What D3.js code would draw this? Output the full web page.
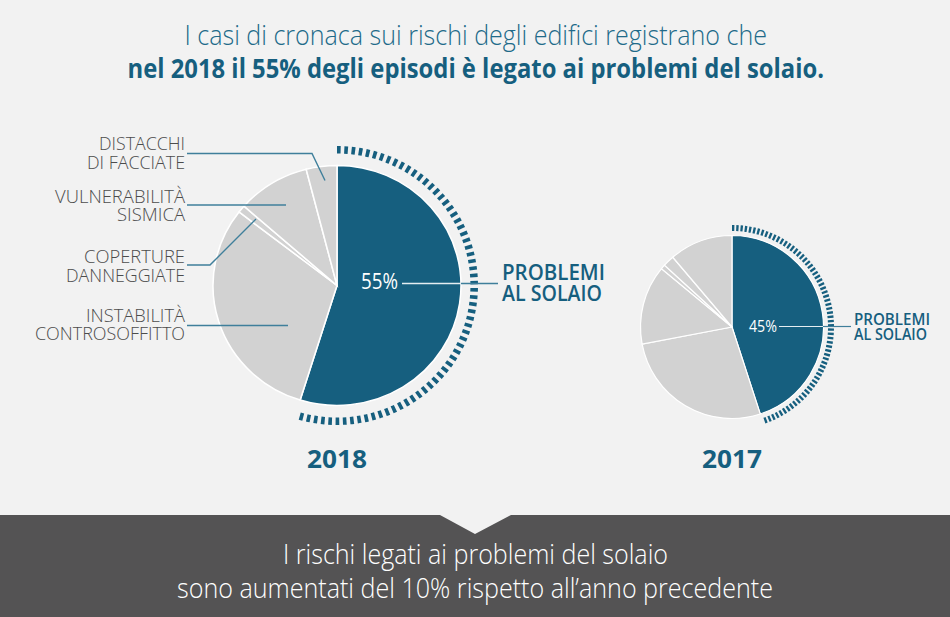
<!DOCTYPE html>
<html>
<head>
<meta charset="utf-8">
<title>Rischi degli edifici</title>
<script src="https://d3js.org/d3.v7.min.js"></script>
<style>
  html, body { margin: 0; padding: 0; background: #f2f2f2; }
  svg { display: block; }
  text { font-family: "Open Sans", sans-serif; }
</style>
</head>
<body>
<div id="chart"></div>
<script>
// slices clockwise from 12 o'clock, percent
var categories = ["Problemi al solaio", "Instabilità controsoffitto", "Coperture danneggiate", "Vulnerabilità sismica", "Distacchi di facciate"];
var values2018 = [54.8, 30.7, 1, 9.5, 4];
var values2017 = [45, 27, 14, 0.8, 2, 11.2];
var blue = "#165f7f", grey = "#d2d2d2", line = "#3f7f9b", dark = "#545354", labelGrey = "#4c4c4c";

var svg = d3.select("#chart").append("svg").attr("width", 950).attr("height", 617);

svg.append("rect").attr("width", 950).attr("height", 617).attr("fill", "#f2f2f2");

/* text squeezed to the width it has in the original */
function label(x0, x1, y, str, size, weight, color) {
  svg.append("text")
    .attr("x", x0).attr("y", y)
    .attr("textLength", x1 - x0).attr("lengthAdjust", "spacingAndGlyphs")
    .attr("font-size", size).attr("font-weight", weight).attr("fill", color)
    .text(str);
}

function leader(pts, color, w) {
  svg.append("path")
    .attr("d", d3.line()(pts))
    .attr("fill", "none").attr("stroke", color).attr("stroke-width", w);
}

function drawPie(values, cx, cy, rx, ry, ring) {
  var g = svg.append("g").attr("transform", "translate(" + cx + "," + cy + ") scale(" + (rx / ry) + ",1)");
  var pie = d3.pie().sort(null).value(function(d) { return d; });
  var arcs = pie(values);
  var arc = d3.arc().innerRadius(0).outerRadius(ry);

  g.selectAll("path.slice").data(arcs).enter().append("path")
    .attr("class", "slice")
    .attr("d", arc)
    .attr("fill", function(d, i) { return i == 0 ? blue : grey; })
    .attr("stroke", "#fff").attr("stroke-width", ring.sw);

  // dashed ring following the blue slice
  var end = arcs[0].endAngle;
  var step = end / ring.count;
  var tick = d3.arc().innerRadius(ring.inner).outerRadius(ring.outer);
  svg.append("g")
    .attr("transform", "translate(" + cx + "," + cy + ") scale(" + (ring.outerX / ring.outer) + ",1)")
    .selectAll("path").data(d3.range(ring.count)).enter().append("path")
    .attr("d", function(i) {
      return tick({ startAngle: i * step, endAngle: i * step + step * ring.fill });
    })
    .attr("fill", blue);
}

// titolo
label(184.5, 767, 45, "I casi di cronaca sui rischi degli edifici registrano che", 27, 300, "#216a89");
label(127.5, 824, 78, "nel 2018 il 55% degli episodi è legato ai problemi del solaio.", 26, 700, blue);

drawPie(values2018, 337, 285.5, 124, 120, { inner: 132, outer: 139.5, outerX: 141, count: 65, fill: 0.5, sw: 1.5 });
drawPie(values2017, 732, 327, 91.5, 91.5, { inner: 96, outer: 102, outerX: 102, count: 66, fill: 0.55, sw: 1.2 });

// etichette 2018
label(99, 185, 150, "DISTACCHI", 19, 300, labelGrey);
label(87, 185, 169, "DI FACCIATE", 19, 300, labelGrey);
label(55, 185, 203, "VULNERABILITÀ", 19, 300, labelGrey);
label(117, 185, 221, "SISMICA", 19, 300, labelGrey);
label(84, 185, 263, "COPERTURE", 19, 300, labelGrey);
label(66, 185, 282, "DANNEGGIATE", 19, 300, labelGrey);
label(86, 185, 322, "INSTABILITÀ", 19, 300, labelGrey);
label(35, 185, 340, "CONTROSOFFITTO", 19, 300, labelGrey);

leader([[187, 153.5], [312, 153.5], [325, 180.5]], line, 1.4);
leader([[187, 205], [286, 205]], line, 1.4);
leader([[187, 265], [210, 265], [256, 219]], line, 1.4);
leader([[187, 325.5], [288, 325.5]], line, 1.4);

// 55%
label(361, 398, 289, "55%", 22, 400, "#fff");
leader([[402, 283.5], [461, 283.5]], "#e4edf1", 1.4);
leader([[461, 283.5], [498, 283.5]], line, 1.4);
label(502, 605, 280, "PROBLEMI", 21, 600, blue);
label(502, 602, 301, "AL SOLAIO", 21, 600, blue);

// 45%
label(749, 777, 332, "45%", 17, 400, "#fff");
leader([[779, 326.5], [823, 326.5]], "#e4edf1", 1.2);
leader([[823, 326.5], [851, 326.5]], line, 1.2);
label(854, 930, 325, "PROBLEMI", 15.5, 600, blue);
label(854, 927, 340, "AL SOLAIO", 15.5, 600, blue);

// anni
label(307, 367, 468, "2018", 25, 700, blue);
label(702, 762, 468, "2017", 25, 700, blue);

// fascia in basso con la punta rivolta verso il basso
svg.append("path")
  .attr("d", d3.line()([[0, 515], [440, 515], [475, 534], [511, 515], [950, 515], [950, 617], [0, 617]]) + "Z")
  .attr("fill", dark);
label(283, 668, 564, "I rischi legati ai problemi del solaio", 27, 300, "#fff");
label(177, 773, 598, "sono aumentati del 10% rispetto all’anno precedente", 27, 300, "#fff");
</script>
</body>
</html>
